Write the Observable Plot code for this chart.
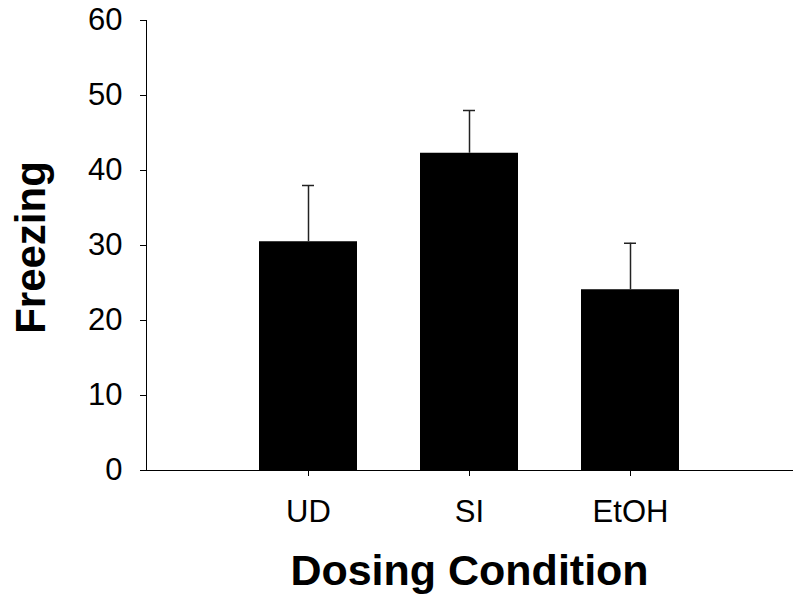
<!DOCTYPE html>
<html>
<head>
<meta charset="utf-8">
<script src="https://cdn.jsdelivr.net/npm/d3@7"></script>
<script src="https://cdn.jsdelivr.net/npm/@observablehq/plot@0.6"></script>
<style>
  html, body { margin: 0; padding: 0; background: white; }
</style>
</head>
<body>
<div id="chart"></div>
<script>
const conditions = ["UD", "SI", "EtOH"];
const freezing = [30.5, 42.3, 24.1];
const sem = [7.5, 5.7, 6.2];
const yTicks = [0, 10, 20, 30, 40, 50, 60];
const xTitle = "Dosing Condition";
const yTitle = "Freezing";

const data = conditions.map((c, i) => ({cond: c, mean: freezing[i], top: freezing[i] + sem[i]}));

const chart = Plot.plot({
  width: 800,
  height: 601,
  marginTop: 20,
  marginBottom: 131,
  marginLeft: 146,
  marginRight: 8,
  style: {fontFamily: "'Liberation Sans', Arial, sans-serif", fontSize: "31px", color: "black", background: "white"},
  x: {domain: conditions, paddingInner: 0.393, paddingOuter: 0.697, tickSize: 6, tickPadding: 23, line: true, label: null},
  y: {domain: [0, 60], ticks: yTicks, tickSize: 6, tickPadding: 18, line: true, label: null},
  marks: [
    Plot.barY(data, {x: "cond", y: "mean", fill: "black"}),
    Plot.ruleX(data, {x: "cond", y1: "mean", y2: "top", stroke: "#222", strokeWidth: 1.5}),
    Plot.tickY(data, {x: "cond", y: "top", stroke: "#222", strokeWidth: 1.5, insetLeft: 43, insetRight: 43}),
    Plot.text([xTitle], {frameAnchor: "bottom", lineAnchor: "middle", textAnchor: "middle", dy: 101, fontSize: 43, fontWeight: "bold", fill: "black"}),
    Plot.text([yTitle], {frameAnchor: "left", lineAnchor: "middle", textAnchor: "middle", dx: -115, dy: 2, rotate: -90, fontSize: 42, fontWeight: "bold", fill: "black"})
  ]
});
document.getElementById("chart").appendChild(chart);
</script>
</body>
</html>
